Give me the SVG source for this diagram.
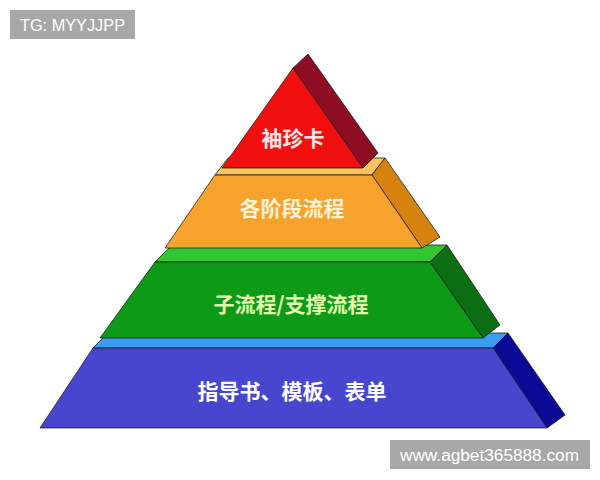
<svg xmlns="http://www.w3.org/2000/svg" width="600" height="480" viewBox="0 0 600 480">
<style>
  .face{stroke:#1a1a1a;stroke-width:1;stroke-linejoin:round;stroke-opacity:0.75}
  .lbl{font-family:"Noto Sans CJK SC","Noto Sans CJK JP",sans-serif;font-weight:bold;font-size:21px;text-anchor:middle;dominant-baseline:central}
  .wm{font-family:"Liberation Sans",Arial,sans-serif;font-size:16px;fill:#ffffff}
</style>
<rect width="600" height="480" fill="#ffffff"/>
<g id="layer-blue">
  <polygon class="face" points="93,348 493,348 508,333 108,333" fill="#3a9cf2"/>
  <polygon class="face" points="493,348 508,333 565,415 547,428" fill="#0a0a96"/>
  <polygon class="face" points="93,348 493,348 547,428 40,428" fill="#4646cf"/>
  <text class="lbl" x="292" y="390" fill="#ffffff">指导书、模板、表单</text>
</g>
<g id="layer-green">
  <polygon class="face" points="155,262 430,262 447,245 172,245" fill="#33c633"/>
  <polygon class="face" points="430,262 447,245 500,325 483,338" fill="#0b6e12"/>
  <polygon class="face" points="155,262 430,262 483,338 100,338" fill="#0d9a16"/>
  <text class="lbl" x="291" y="303" fill="#e4ffb0">子流程/支撑流程</text>
</g>
<g id="layer-orange">
  <polygon class="face" points="215,175 372,175 385,158 228,158" fill="#fcc25c"/>
  <polygon class="face" points="372,175 385,158 440,237 422,248" fill="#d6820f"/>
  <polygon class="face" points="215,175 372,175 422,248 165,248" fill="#f7a22c"/>
  <text class="lbl" x="292" y="207" fill="#fff3d6">各阶段流程</text>
</g>
<g id="layer-red">
  <polygon class="face" points="293,68 308,54 378,153 363,168" fill="#8e0c24"/>
  <polygon class="face" points="293,68 363,168 222,168" fill="#f10f0f"/>
  <text class="lbl" x="293" y="137" fill="#ffe8e8">袖珍卡</text>
</g>
<g id="watermark-tg">
  <rect x="10" y="10" width="125" height="29" fill="#a8a8a8"/>
  <text class="wm" x="20" y="31" textLength="105" lengthAdjust="spacingAndGlyphs">TG: MYYJJPP</text>
</g>
<g id="watermark-url">
  <rect x="390" y="440" width="200" height="29" fill="#a8a8a8"/>
  <text class="wm" x="400" y="461" font-size="17" textLength="179" lengthAdjust="spacingAndGlyphs">www.agbet365888.com</text>
</g>
</svg>
